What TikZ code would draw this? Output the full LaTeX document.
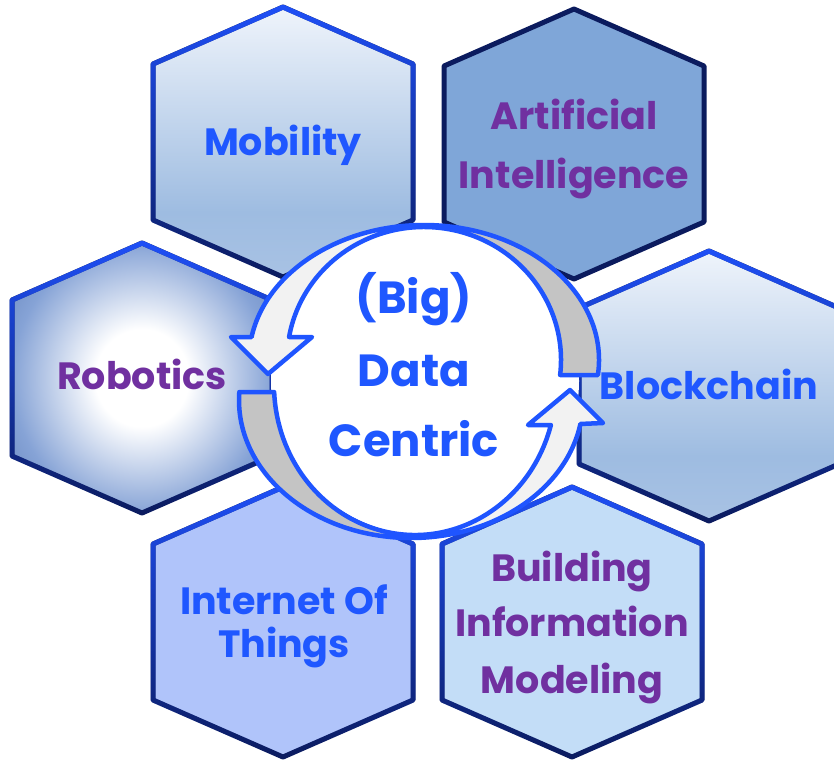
\documentclass[tikz,border=0pt]{standalone}
\usepackage{fontspec}
\setmainfont{Poppins}
\usetikzlibrary{fadings}
\definecolor{hexblue}{HTML}{1F50F7}
\definecolor{hexnavy}{HTML}{0B1B5E}
\definecolor{txtblue}{HTML}{1F57FF}
\definecolor{txtpurple}{HTML}{7030A0}
\definecolor{arrblue}{HTML}{1F55FF}
\definecolor{arrlight}{HTML}{F2F2F2}
\definecolor{arrgray}{HTML}{C4C4C4}
\definecolor{aifill}{HTML}{7FA6D8}
\definecolor{iotfill}{HTML}{B0C4FA}
\definecolor{bimfill}{HTML}{C3DDF7}
\definecolor{mobtop}{HTML}{EFF4FB}
\definecolor{mobmid}{HTML}{9EBCE1}
\definecolor{mobbot}{HTML}{A8C2E4}
\definecolor{roboedge}{HTML}{86A3D6}
\definecolor{robocorner}{HTML}{7290C6}
\pgfdeclareverticalshading{mobshade}{100bp}{color(0bp)=(mobbot); color(25bp)=(mobbot); color(37bp)=(mobmid); color(75bp)=(mobtop); color(100bp)=(mobtop)}
\pgfdeclareradialshading{roboshade}{\pgfpoint{0bp}{0bp}}{color(0bp)=(white); color(9bp)=(white); color(25bp)=(roboedge); color(31bp)=(robocorner); color(50bp)=(robocorner)}
\tikzfading[name=hexfade, top color=transparent!0, middle color=transparent!30, bottom color=transparent!100]
\newcommand\hexg[2]{(#1,#2-135) -- (#1+130,#2-78) -- (#1+130,#2+78) -- (#1,#2+135) -- (#1-130,#2+78) -- (#1-130,#2-78) -- cycle}
\newcommand\gradhex[3]{%
  \path[#3] \hexg{#1}{#2};
  \draw[hexnavy, hexline] \hexg{#1}{#2};
  \draw[hexblue, hexline, path fading=hexfade] \hexg{#1}{#2};}
\begin{document}
\begin{tikzpicture}[x=1pt, y=-1pt,
  hexline/.style={line width=5pt, line join=round},
  arrline/.style={draw=arrblue, line width=4.5pt, line join=round},
  lbl/.style={anchor=base, inner sep=0pt, font=\bfseries\fontsize{38}{40}\selectfont},
  big/.style={anchor=base, inner sep=0pt, font=\bfseries\fontsize{45}{48}\selectfont}]
\useasboundingbox (0,0) rectangle (834,761);

% hexagons
\gradhex{283}{142}{shading=mobshade}
\path[fill=aifill] \hexg{574}{144};
\draw[hexnavy, hexline] \hexg{574}{144};
\gradhex{142}{378}{shading=roboshade}
\gradhex{709}{386}{shading=mobshade}
\gradhex{283}{622}{fill=iotfill}
\gradhex{572}{622}{fill=bimfill}

% white centre
\fill[white] (425,381) circle[radius=154];

% upper circular arrow: outer ellipse centre (424,360) 175x135, inner (424,360) 137x133
\coordinate (uo) at (424,360);
\fill[arrgray] ([shift={(uo)}]6.4:175 and 135) arc[start angle=6.4, end angle=-90, x radius=175, y radius=135]
  arc[start angle=-90, end angle=6.48, x radius=137, y radius=133] -- cycle;
\fill[arrlight] ([shift={(uo)}]-90:175 and 135) arc[start angle=-90, end angle=-170.2, x radius=175, y radius=135]
  -- (231,337) -- (268,374) -- (312,337) -- ([shift={(uo)}]-170.04:137 and 133)
  arc[start angle=-170.04, end angle=-90, x radius=137, y radius=133] -- cycle;
\draw[arrline] ([shift={(uo)}]6.4:175 and 135) arc[start angle=6.4, end angle=-170.2, x radius=175, y radius=135]
  -- (231,337) -- (268,374) -- (312,337) -- ([shift={(uo)}]-170.04:137 and 133)
  arc[start angle=-170.04, end angle=6.48, x radius=137, y radius=133] -- cycle;

% lower circular arrow: outer ellipse centre (411,400) 172x138, inner (415,385) 141x150
\coordinate (lo) at (411,400);
\coordinate (li) at (415,385);
\fill[arrgray] ([shift={(lo)}]183.3:172 and 138) arc[start angle=183.3, end angle=90, x radius=172, y radius=138]
  -- ([shift={(li)}]90:141 and 150) arc[start angle=90, end angle=177.3, x radius=141, y radius=150] -- cycle;
\fill[arrlight] ([shift={(lo)}]90:172 and 138) arc[start angle=90, end angle=10, x radius=172, y radius=138]
  -- (603,423) -- (570,390) -- (528,425) -- ([shift={(li)}]15.47:141 and 150)
  arc[start angle=15.47, end angle=90, x radius=141, y radius=150] -- cycle;
\draw[arrline] ([shift={(lo)}]183.3:172 and 138) arc[start angle=183.3, end angle=10, x radius=172, y radius=138]
  -- (603,423) -- (570,390) -- (528,425) -- ([shift={(li)}]15.47:141 and 150)
  arc[start angle=15.47, end angle=177.3, x radius=141, y radius=150] -- cycle;

% labels
\node[lbl, txtblue] (mob) at (283,155) {Mobility};
\node[lbl, txtpurple] (ai1) at (574,129) {Artificial};
\node[lbl, txtpurple] (ai2) at (574,188) {Intelligence};
\node[lbl, txtpurple] (robo) at (142,389) {Robotics};
\node[lbl, txtblue] (block) at (709,399) {Blockchain};
\node[lbl, txtblue] (iot1) at (284,614) {Internet Of};
\node[lbl, txtblue] (iot2) at (284,657) {Things};
\node[lbl, txtpurple] (bim1) at (572,581) {Building};
\node[lbl, txtpurple] (bim2) at (572,636) {Information};
\node[lbl, txtpurple] (bim3) at (572,693) {Modeling};
\node[big, txtblue] (c1) at (414,313) {(Big)};
\node[big, txtblue] (c2) at (414,386) {Data};
\node[big, txtblue] (c3) at (414,456) {Centric};
\end{tikzpicture}
\end{document}
